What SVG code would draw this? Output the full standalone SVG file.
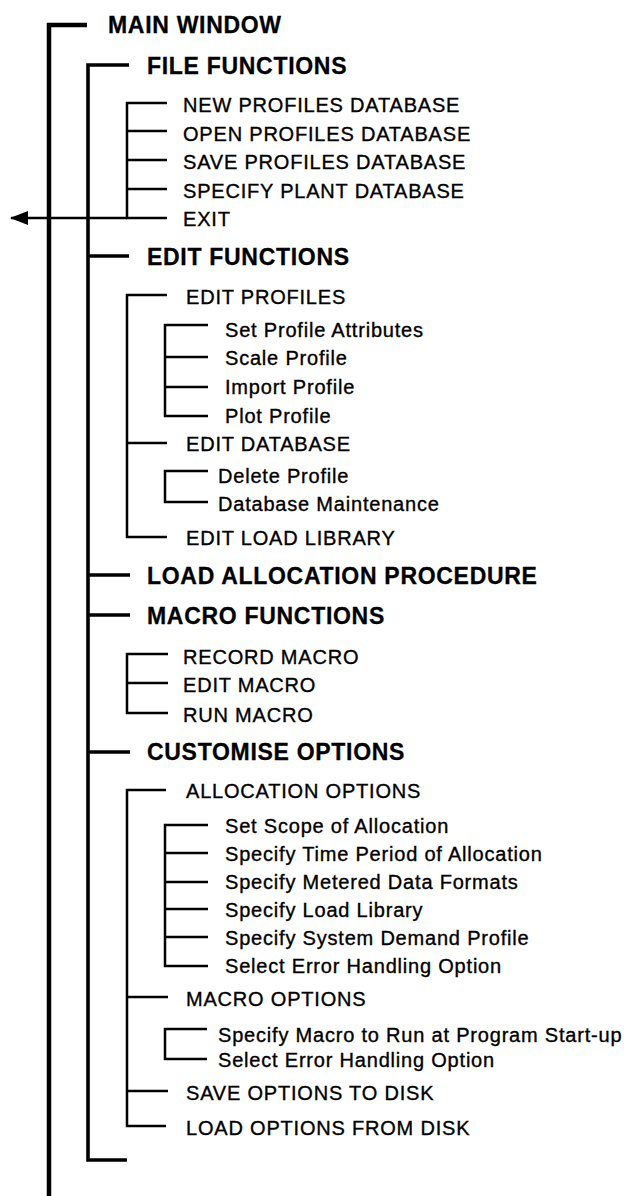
<svg xmlns="http://www.w3.org/2000/svg" width="624" height="1196" viewBox="0 0 624 1196">
<defs>
<style>
.h{font-family:"Liberation Sans",Arial,Helvetica,sans-serif;font-weight:bold;font-size:23px;letter-spacing:0.7px;fill:#000;stroke:#000;stroke-width:0.3}
.t{font-family:"Liberation Sans",Arial,Helvetica,sans-serif;font-size:20px;letter-spacing:0.8px;fill:#000;stroke:#000;stroke-width:0.35}
.l1{fill:none;stroke:#000;stroke-width:4.5}
.l2{fill:none;stroke:#000;stroke-width:3.6}
.l3{fill:none;stroke:#000;stroke-width:2.5}
</style>
<marker id="arr" viewBox="0 0 18 14" refX="17" refY="7" markerWidth="18" markerHeight="14" markerUnits="userSpaceOnUse" orient="auto">
<path d="M0,0 L18,7 L0,14 z" fill="#000"/>
</marker>
</defs>
<rect width="624" height="1196" fill="#fff"/>
<g id="connectors">
<path class="l1" d="M87,25 H49 V1196"/>
<path class="l2" d="M129,65 H88 V1160 H127 M88,256 H129 M88,575 H130 M88,615 H130 M88,752 H130"/>
<path class="l3" d="M167,103 H127 V218 H167 M127,131 H167 M127,160 H167 M127,189 H167"/>
<path class="l3" d="M127,218 H11" marker-end="url(#arr)"/>
<path class="l3" d="M167,295 H127 V537 H167 M127,443 H167"/>
<path class="l3" d="M208,325 H165 V416 H208 M165,357 H208 M165,387 H208"/>
<path class="l3" d="M208,471 H165 V502 H208"/>
<path class="l3" d="M168,654 H127 V713 H168 M127,683 H168"/>
<path class="l3" d="M166,790 H127 V1126 H166 M127,997 H168 M127,1091 H168"/>
<path class="l3" d="M208,825 H165 V966 H208 M165,853 H208 M165,882 H208 M165,909 H208 M165,937 H208"/>
<path class="l3" d="M207,1029 H165 V1059 H207"/>
</g>
<g id="main-window"><text class="h" x="108" y="33">MAIN WINDOW</text></g>
<g id="file-functions"><text class="h" x="147" y="73.5">FILE FUNCTIONS</text></g>
<g id="new-profiles"><text class="t" x="183" y="112">NEW PROFILES DATABASE</text></g>
<g id="open-profiles"><text class="t" x="183" y="140.5">OPEN PROFILES DATABASE</text></g>
<g id="save-profiles"><text class="t" x="183" y="169">SAVE PROFILES DATABASE</text></g>
<g id="specify-plant"><text class="t" x="183" y="197.5">SPECIFY PLANT DATABASE</text></g>
<g id="exit"><text class="t" x="183" y="226">EXIT</text></g>
<g id="edit-functions"><text class="h" x="147" y="264.5">EDIT FUNCTIONS</text></g>
<g id="edit-profiles"><text class="t" x="186" y="304">EDIT PROFILES</text></g>
<g id="set-profile-attributes"><text class="t" x="225" y="336.5">Set Profile Attributes</text></g>
<g id="scale-profile"><text class="t" x="225" y="365">Scale Profile</text></g>
<g id="import-profile"><text class="t" x="225" y="394">Import Profile</text></g>
<g id="plot-profile"><text class="t" x="225" y="423">Plot Profile</text></g>
<g id="edit-database"><text class="t" x="186" y="451">EDIT DATABASE</text></g>
<g id="delete-profile"><text class="t" x="218" y="483">Delete Profile</text></g>
<g id="database-maintenance"><text class="t" x="218" y="511">Database Maintenance</text></g>
<g id="edit-load-library"><text class="t" x="186" y="545">EDIT LOAD LIBRARY</text></g>
<g id="load-allocation"><text class="h" x="147" y="583.5">LOAD ALLOCATION PROCEDURE</text></g>
<g id="macro-functions"><text class="h" x="147" y="624">MACRO FUNCTIONS</text></g>
<g id="record-macro"><text class="t" x="183" y="663.5">RECORD MACRO</text></g>
<g id="edit-macro"><text class="t" x="183" y="692">EDIT MACRO</text></g>
<g id="run-macro"><text class="t" x="183" y="721.5">RUN MACRO</text></g>
<g id="customise-options"><text class="h" x="147" y="759.5">CUSTOMISE OPTIONS</text></g>
<g id="allocation-options"><text class="t" x="186" y="798">ALLOCATION OPTIONS</text></g>
<g id="set-scope"><text class="t" x="225" y="833">Set Scope of Allocation</text></g>
<g id="specify-time"><text class="t" x="225" y="860.5">Specify Time Period of Allocation</text></g>
<g id="specify-metered"><text class="t" x="225" y="888.5">Specify Metered Data Formats</text></g>
<g id="specify-load-library"><text class="t" x="225" y="916.5">Specify Load Library</text></g>
<g id="specify-system-demand"><text class="t" x="225" y="945">Specify System Demand Profile</text></g>
<g id="select-error-alloc"><text class="t" x="225" y="973">Select Error Handling Option</text></g>
<g id="macro-options"><text class="t" x="186" y="1005.5">MACRO OPTIONS</text></g>
<g id="specify-macro-startup"><text class="t" x="218" y="1041.5">Specify Macro to Run at Program Start-up</text></g>
<g id="select-error-macro"><text class="t" x="218" y="1066.5">Select Error Handling Option</text></g>
<g id="save-options"><text class="t" x="186" y="1100">SAVE OPTIONS TO DISK</text></g>
<g id="load-options"><text class="t" x="186" y="1134.5">LOAD OPTIONS FROM DISK</text></g>
</svg>
